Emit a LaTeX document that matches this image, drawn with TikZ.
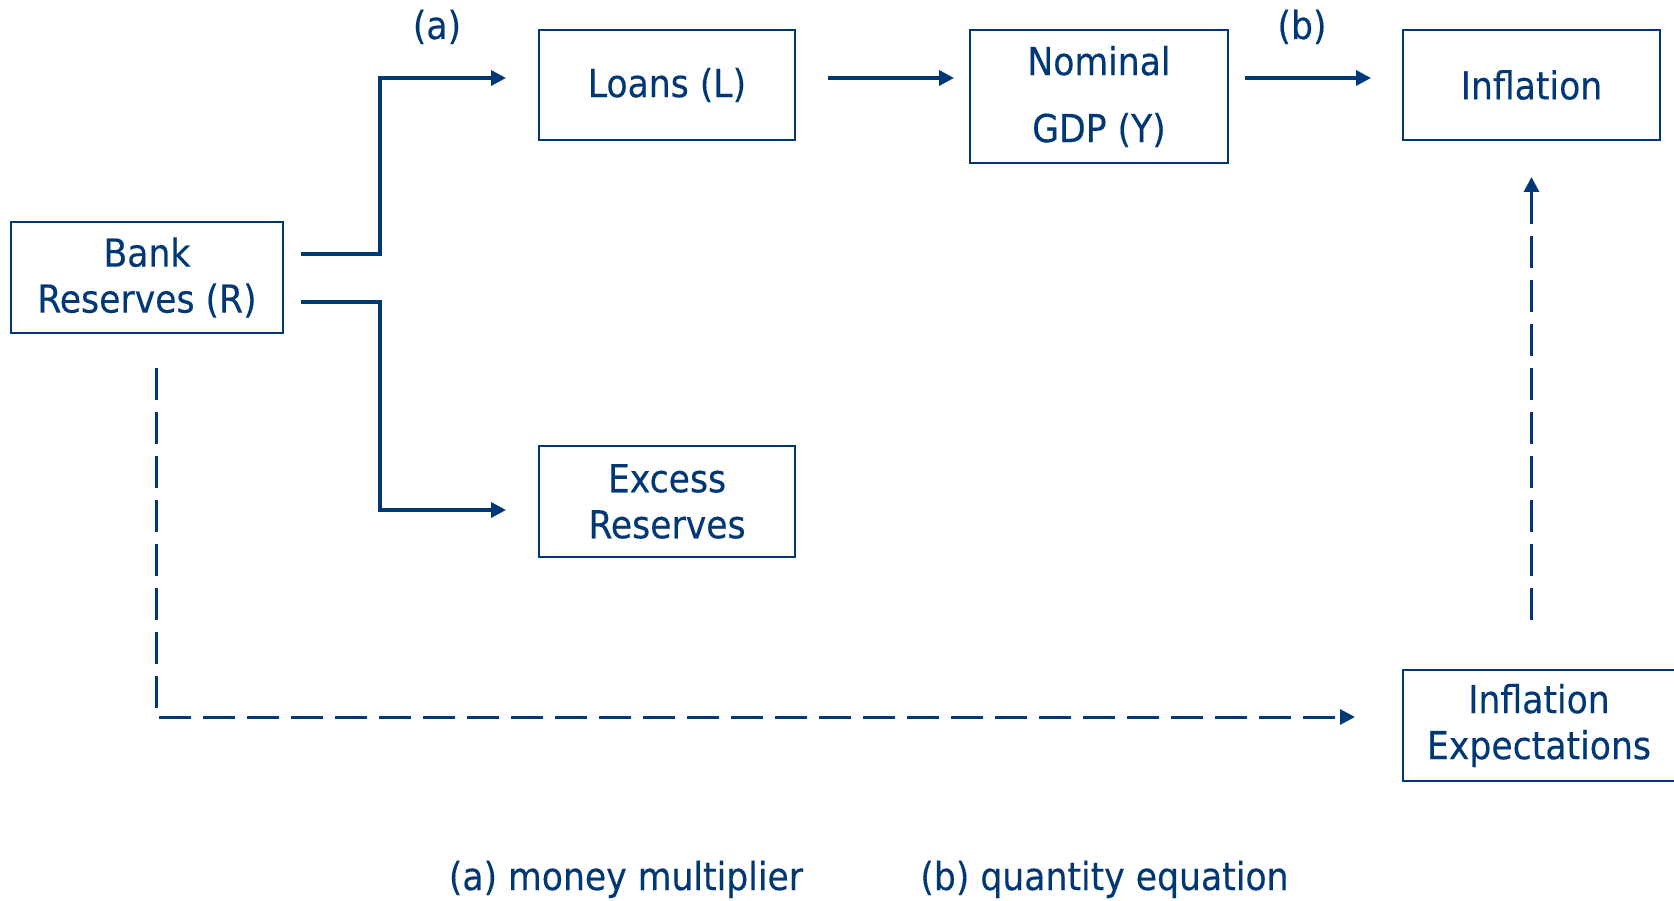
\documentclass[tikz,border=0pt]{standalone}
\usepackage{fontspec}
\setmainfont{DejaVu Sans Condensed}[FakeBold=0.35]
\usetikzlibrary{calc,arrows.meta}
\definecolor{navy}{RGB}{0,56,118}
\tikzset{
  box/.style={draw=navy, line width=2pt, text=navy, align=center,
    inner sep=0pt, font=\fontsize{38.5}{46}\selectfont},
  flow/.style={draw=navy, line width=3.5pt, -{Triangle[length=15pt,width=15pt]}},
  feed/.style={draw=navy, line width=3pt, dash pattern=on 32pt off 12pt,
    -{Triangle[length=15pt,width=15pt]}},
  tag/.style={text=navy, inner sep=0pt, font=\fontsize{38.5}{44}\selectfont}
}
\begin{document}
\begin{tikzpicture}[x=1pt, y=-1pt]
\useasboundingbox (0,0) rectangle (1674,901);

% boxes
\node[box, minimum width=272pt, minimum height=111pt] (bank) at (147,277.5) {Bank\\Reserves (R)};
\node[box, minimum width=256pt, minimum height=110pt] (loans) at (667,85) {Loans (L)};
\node[box, minimum width=258pt, minimum height=133pt] (gdp) at (1099,96.5) {Nominal\\[21pt]GDP (Y)};
\node[box, minimum width=257pt, minimum height=110pt] (infl) at (1531.5,85) {Inflation};
\node[box, minimum width=256pt, minimum height=111pt] (excess) at (667,501.5) {Excess\\Reserves};
\node[box, minimum width=272pt, minimum height=111pt] (infexp) at (1539,725.5) {Inflation\\Expectations};

% splitting of reserves into loans and excess reserves
\draw[flow] ($(bank.east)+(17,-23.5)$) -- ++(79,0) |- ($(loans.west)+(-32,-7)$);
\draw[flow] ($(bank.east)+(17,24.5)$) -- ++(79,0) |- ($(excess.west)+(-32,8.5)$);

% top chain
\draw[flow] ($(loans.east)+(32,-7)$) -- ($(gdp.west)+(-15,-18.5)$);
\draw[flow] ($(gdp.east)+(16,-18.5)$) -- ($(infl.west)+(-31,-7)$);

% expectations channel
\draw[feed] ($(bank.south)+(9,34)$) |- ($(infexp.west)+(-47,-8.5)$);
\draw[feed] ($(infexp.north)+(-7.5,-49)$) -- ($(infl.south)+(0,36)$);

% labels
\node[tag, anchor=base] (la) at (437,39) {(a)};
\node[tag, anchor=base] (lb) at (1302,39) {(b)};
\node[tag, anchor=base] (keya) at (626,890) {(a) money multiplier};
\node[tag, anchor=base] (keyb) at (1104.5,890) {(b) quantity equation};
\end{tikzpicture}
\end{document}
